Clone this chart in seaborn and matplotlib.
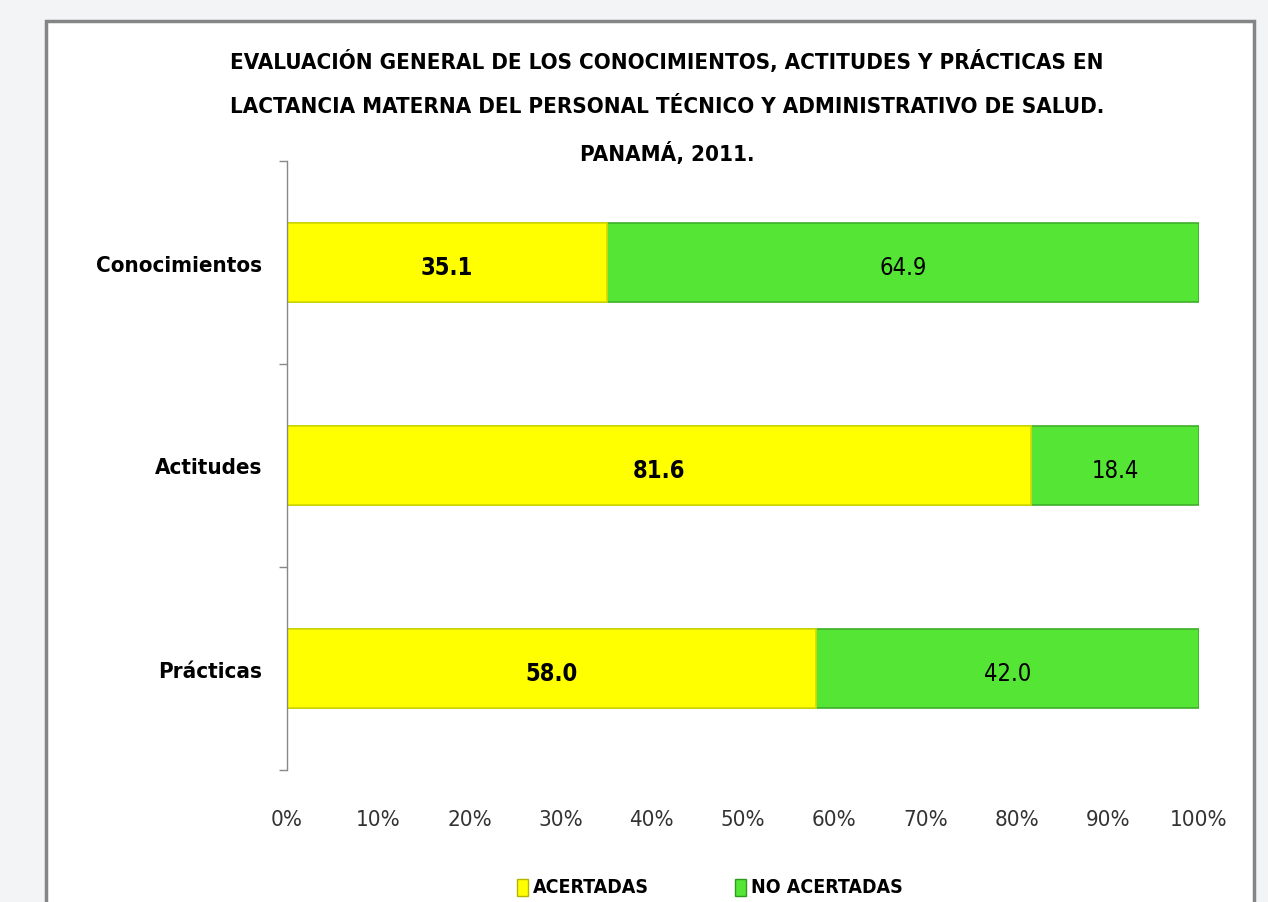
import numpy as np
import pandas as pd
import seaborn as sns
import matplotlib.pyplot as plt
from matplotlib.patches import Rectangle
from matplotlib.ticker import PercentFormatter

# data
categorias = ["Conocimientos", "Actitudes", "Prácticas"]
acertadas = [35.1, 81.6, 58.0]
no_acertadas = [64.9, 18.4, 42.0]
x_ticks = [0, 10, 20, 30, 40, 50, 60, 70, 80, 90, 100]

titulo = ["EVALUACIÓN GENERAL DE LOS CONOCIMIENTOS, ACTITUDES Y PRÁCTICAS EN",
          "LACTANCIA MATERNA DEL PERSONAL TÉCNICO Y ADMINISTRATIVO DE SALUD.",
          "PANAMÁ, 2011."]

amarillo = "#ffff00"
verde = "#55e635"

df = pd.DataFrame({"categoria": categorias,
                   "acertadas": acertadas,
                   "no_acertadas": no_acertadas})
df["total"] = df["acertadas"] + df["no_acertadas"]

sns.set_style("white")
plt.rcParams["font.family"] = ["DejaVu Sans"]
plt.rcParams["font.stretch"] = "condensed"
plt.rcParams["text.color"] = "black"

fig = plt.figure(figsize=(12.68, 9.03), dpi=100, facecolor="#f3f4f6")

# white chart area with grey border
fig.patches.append(Rectangle((46 / 1268, -0.05), 1208 / 1268, 1.05 - 22 / 903,
                             transform=fig.transFigure, facecolor="white",
                             edgecolor="#858585", linewidth=2.5, zorder=-10))

ax = fig.add_axes([287 / 1268, 1 - 771 / 903, 912 / 1268, 609 / 903])
ax.set_facecolor("none")

# stacked bars: total in green, acertadas in yellow on top
sns.barplot(data=df, x="total", y="categoria", color=verde, width=0.39,
            saturation=1, edgecolor="#3fae2a", linewidth=1.2, ax=ax)
sns.barplot(data=df, x="acertadas", y="categoria", color=amarillo, width=0.39,
            saturation=1, edgecolor="#d8d800", linewidth=1.2, ax=ax)

for i, (a, n) in enumerate(zip(acertadas, no_acertadas)):
    ax.text(a / 2, i + 0.02, f"{a:.1f}", ha="center", va="center",
            fontsize=17, fontweight="bold", color="black")
    ax.text(a + n / 2, i + 0.02, f"{n:.1f}", ha="center", va="center",
            fontsize=17, color="black")

ax.set_xlim(0, 100)
ax.set_ylim(2.5, -0.5)
ax.set_xticks(x_ticks)
ax.xaxis.set_major_formatter(PercentFormatter(decimals=0))
ax.set_yticks([-0.5, 0.5, 1.5, 2.5], minor=True)
ax.set_yticks(range(len(categorias)))
ax.set_yticklabels(categorias, fontsize=16, fontweight="bold", color="black")
ax.tick_params(axis="y", which="major", left=False, length=0, pad=18)
ax.tick_params(axis="y", which="minor", left=True, direction="out",
               length=6, color="#888888", width=1)
ax.tick_params(axis="x", bottom=False, length=0, labelsize=16, pad=28,
               labelcolor="#333333")
ax.set_xlabel("")
ax.set_ylabel("")

for s in ["top", "right", "bottom"]:
    ax.spines[s].set_visible(False)
ax.spines["left"].set_color("#888888")
ax.spines["left"].set_linewidth(1)

for linea, py in zip(titulo, [62, 107, 153]):
    fig.text(667 / 1268, 1 - py / 903, linea, ha="center", va="center",
             fontsize=16, fontweight="bold")

# legend
legend_items = [("ACERTADAS", amarillo, "#b5b500", 517), ("NO ACERTADAS", verde, "#2f9a20", 735)]
for label, fc, ec, px in legend_items:
    fig.patches.append(Rectangle((px / 1268, 1 - 897 / 903), 11 / 1268, 17 / 903,
                                 transform=fig.transFigure, facecolor=fc,
                                 edgecolor=ec, linewidth=1))
    fig.text((px + 16) / 1268, 1 - 888 / 903, label, ha="left", va="center",
             fontsize=14, fontweight="bold")

fig.savefig("out.png", dpi=100, facecolor=fig.get_facecolor())
